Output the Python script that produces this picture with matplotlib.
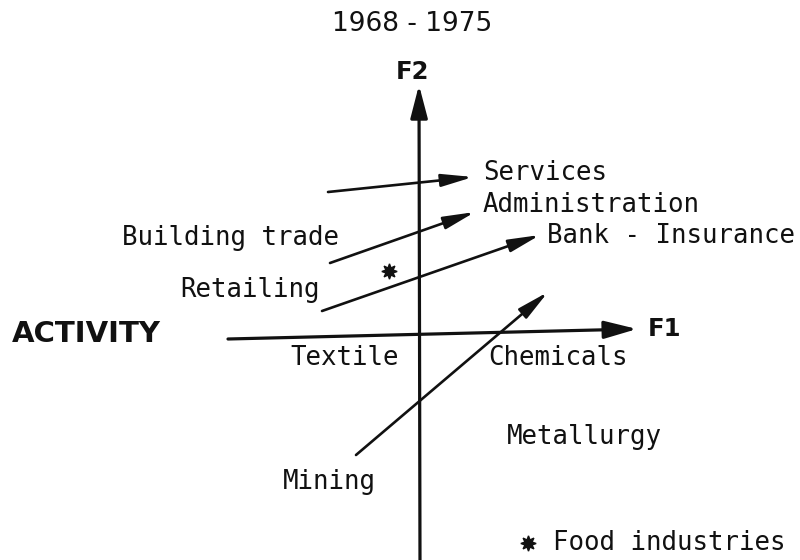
import matplotlib
matplotlib.use("Agg")
import matplotlib.pyplot as plt

# trajectories 1968 -> 1975 in the (F1, F2) plane
sectors = ["Services", "Administration", "Bank - Insurance", "Mining"]
start_f1 = [-0.88, -0.86, -0.94, -0.60]
start_f2 = [1.42, 0.71, 0.23, -1.21]
end_f1 = [0.57, 0.59, 1.24, 1.32]
end_f2 = [1.57, 1.22, 0.99, 0.42]

# static positions (no arrow)
food_f1 = [-0.27]
food_f2 = [0.63]

# labels: text, left x, centre y
labels = ["Services", "Administration", "Bank - Insurance", "Building trade",
          "Retailing", "Textile", "Chemicals", "Metallurgy", "Mining"]
label_x = [0.67, 0.67, 1.31, -2.94, -2.36, -1.26, 0.72, 0.91, -1.33]
label_y = [1.61, 1.29, 0.98, 0.96, 0.44, -0.24, -0.24, -1.03, -1.48]

# axis ends (slightly tilted, as in the scan)
f1_axis = [(-1.88, -0.05), (2.21, 0.05)]
f2_axis = [(0.04, -2.30), (0.03, 2.49)]

mono = "DejaVu Sans Mono"
star = (8, 1, 0)


def arrow(ax, p0, p1, lw, hl, hw):
    ax.annotate("", xy=p1, xytext=p0,
                arrowprops=dict(arrowstyle="-|>,head_length=%s,head_width=%s" % (hl, hw),
                                mutation_scale=20, lw=lw, color="#111111",
                                shrinkA=0, shrinkB=0))


def main():
    fig = plt.figure(figsize=(8, 5.6), dpi=100)
    ax = fig.add_axes([0, 0, 1, 1])
    ax.set_xlim(-4.16, 3.84)
    ax.set_ylim(-2.26, 3.34)
    ax.axis("off")

    # factor axes
    arrow(ax, f1_axis[0], f1_axis[1], 2.3, 1.0, 0.27)
    arrow(ax, f2_axis[0], f2_axis[1], 2.3, 1.0, 0.26)

    for x0, y0, x1, y1 in zip(start_f1, start_f2, end_f1, end_f2):
        arrow(ax, (x0, y0), (x1, y1), 1.9, 0.95, 0.19)

    ax.plot(food_f1, food_f2, ls="none", marker=star, ms=11, color="#111111")

    for t, x, y in zip(labels, label_x, label_y):
        ax.text(x, y, t, family=mono, fontsize=18.5, ha="left", va="center",
                color="#111111")

    # legend entry for the asterisk
    ax.plot([1.12], [-2.09], ls="none", marker=star, ms=11, color="#111111")
    ax.text(1.37, -2.09, "Food industries", family=mono, fontsize=18.5,
            ha="left", va="center", color="#111111")

    ax.text(-4.04, 0.0, "ACTIVITY", fontsize=21, fontweight="bold",
            ha="left", va="center", color="#111111")
    ax.text(2.32, 0.05, "F1", fontsize=17.5, fontweight="bold",
            ha="left", va="center", color="#111111")
    ax.text(-0.03, 2.62, "F2", fontsize=17.5, fontweight="bold",
            ha="center", va="center", color="#111111")
    ax.text(-0.04, 3.10, "1968 - 1975", fontsize=19, ha="center", va="center",
            color="#111111")

    fig.savefig("out.png", dpi=100, facecolor="white")


if __name__ == "__main__":
    main()
